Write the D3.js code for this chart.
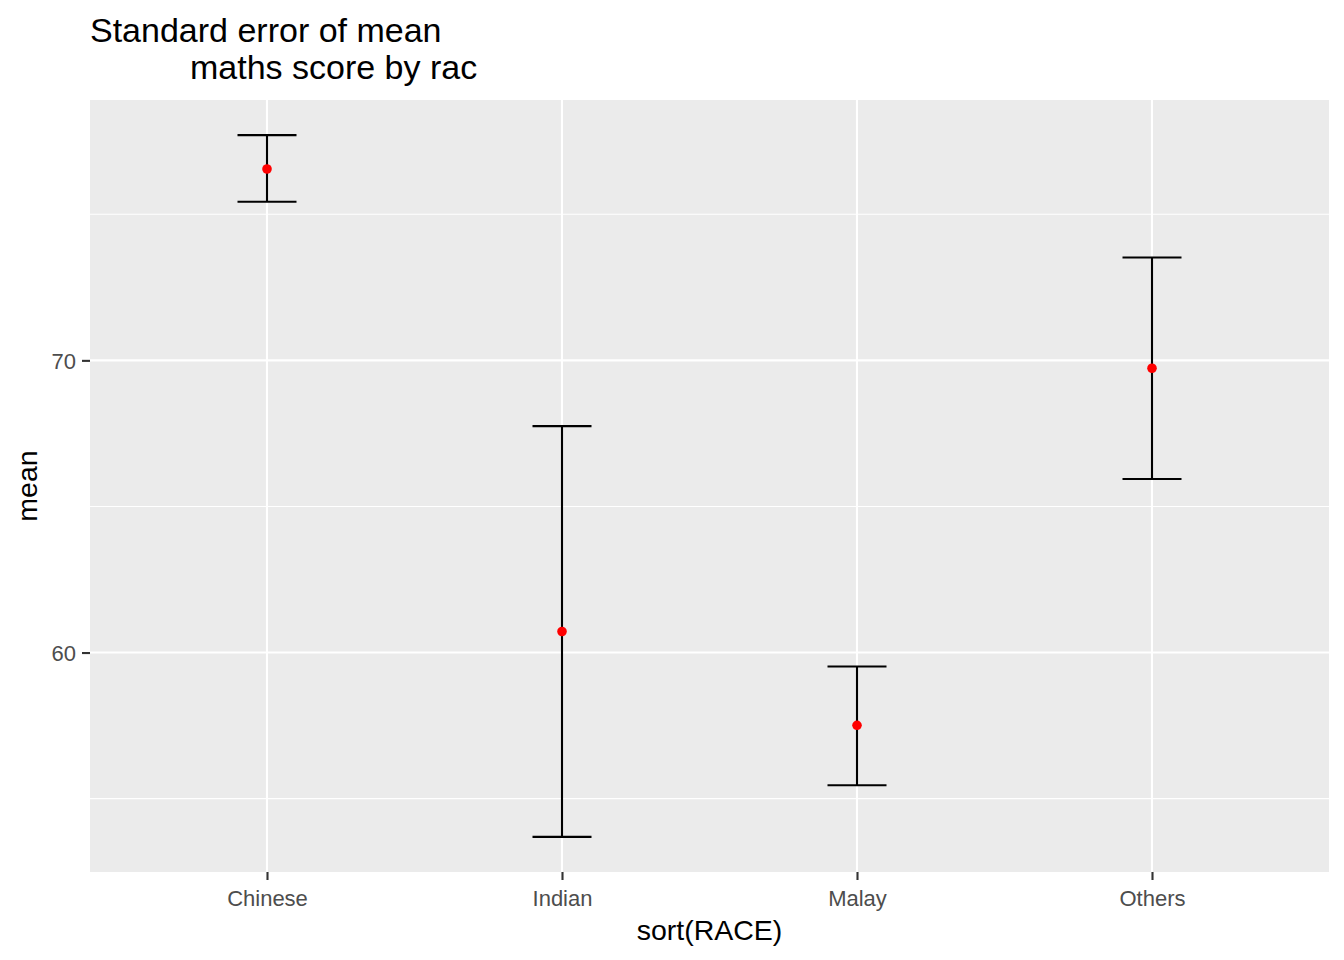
<!DOCTYPE html>
<html>
<head>
<meta charset="utf-8">
<script src="https://cdn.jsdelivr.net/npm/d3@7"></script>
<style>
  body { margin: 0; background: #fff; }
  text { font-family: "Liberation Sans", Arial, sans-serif; }
</style>
</head>
<body>
<script>
// values
var races = ["Chinese", "Indian", "Malay", "Others"];
var means = [76.55, 60.72, 57.51, 69.73];
var lower = [75.43, 53.69, 55.46, 65.94];
var upper = [77.71, 67.75, 59.52, 73.52];
var majorTicks = [60, 70];
var minorTicks = [55, 65, 75];

var W = 1344, H = 960;
var margin = {top: 100, right: 15, bottom: 88, left: 90},
    width = W - margin.left - margin.right,
    height = H - margin.top - margin.bottom;

var data = races.map(function(r, i) {
  return {race: r, mean: means[i], lo: lower[i], hi: upper[i]};
});

// ggplot-like expansion
var lo = d3.min(lower), hi = d3.max(upper), pad = (hi - lo) * 0.05;
var y = d3.scaleLinear().domain([lo - pad, hi + pad]).range([height, 0]);
var x = d3.scalePoint().domain(races).range([0, width]).padding(0.6);
var step = x.step();

var svg = d3.select("body").append("svg")
    .attr("width", W).attr("height", H)
  .append("g")
    .attr("transform", "translate(" + margin.left + "," + margin.top + ")");

svg.append("rect").attr("width", width).attr("height", height).attr("fill", "#EBEBEB");

svg.selectAll(".minor").data(minorTicks).enter().append("line")
    .attr("x1", 0).attr("x2", width)
    .attr("y1", function(d) { return y(d); }).attr("y2", function(d) { return y(d); })
    .attr("stroke", "#fff").attr("stroke-width", 1.1);

svg.selectAll(".majory").data(majorTicks).enter().append("line")
    .attr("x1", 0).attr("x2", width)
    .attr("y1", function(d) { return y(d); }).attr("y2", function(d) { return y(d); })
    .attr("stroke", "#fff").attr("stroke-width", 2.1);

svg.selectAll(".majorx").data(races).enter().append("line")
    .attr("x1", function(d) { return x(d); }).attr("x2", function(d) { return x(d); })
    .attr("y1", 0).attr("y2", height)
    .attr("stroke", "#fff").attr("stroke-width", 2.1);

// error bars
var bw = step * 0.1;
var eb = svg.selectAll(".eb").data(data).enter().append("g").attr("class", "eb");
eb.append("line")
    .attr("x1", function(d) { return x(d.race); }).attr("x2", function(d) { return x(d.race); })
    .attr("y1", function(d) { return y(d.lo); }).attr("y2", function(d) { return y(d.hi); });
eb.append("line")
    .attr("x1", function(d) { return x(d.race) - bw; }).attr("x2", function(d) { return x(d.race) + bw; })
    .attr("y1", function(d) { return y(d.hi); }).attr("y2", function(d) { return y(d.hi); });
eb.append("line")
    .attr("x1", function(d) { return x(d.race) - bw; }).attr("x2", function(d) { return x(d.race) + bw; })
    .attr("y1", function(d) { return y(d.lo); }).attr("y2", function(d) { return y(d.lo); });
eb.selectAll("line").attr("stroke", "#000").attr("stroke-width", 2.1);

svg.selectAll(".pt").data(data).enter().append("circle")
    .attr("cx", function(d) { return x(d.race); })
    .attr("cy", function(d) { return y(d.mean); })
    .attr("r", 4.8).attr("fill", "#FF0000");

// axes
var xAxis = d3.axisBottom(x).tickSize(8).tickPadding(4);
var yAxis = d3.axisLeft(y).tickValues(majorTicks).tickSize(8).tickPadding(6);

var gx = svg.append("g").attr("transform", "translate(0," + height + ")").call(xAxis);
var gy = svg.append("g").call(yAxis);
[gx, gy].forEach(function(g) {
  g.select(".domain").remove();
  g.selectAll(".tick line").attr("stroke", "#333333").attr("stroke-width", 2.1);
  g.selectAll(".tick text").attr("fill", "#4D4D4D")
      .style("font-size", "22px").style("font-family", "'Liberation Sans', Arial, sans-serif");
});
gx.selectAll(".tick text").attr("dy", null).attr("y", 34);
gy.selectAll(".tick text").attr("dy", "0.36em");

svg.append("text")
    .attr("x", width / 2).attr("y", height + 68)
    .attr("text-anchor", "middle").style("font-size", "28.5px")
    .text("sort(RACE)");

svg.append("text")
    .attr("transform", "translate(" + (-53) + "," + (height / 2) + ") rotate(-90)")
    .attr("text-anchor", "middle").style("font-size", "28.5px")
    .text("mean");

var title = svg.append("text").attr("y", -58).style("font-size", "34px");
title.append("tspan").attr("x", 0).text("Standard error of mean");
title.append("tspan").attr("x", 100).attr("dy", 37).text("maths score by rac");
</script>
</body>
</html>
